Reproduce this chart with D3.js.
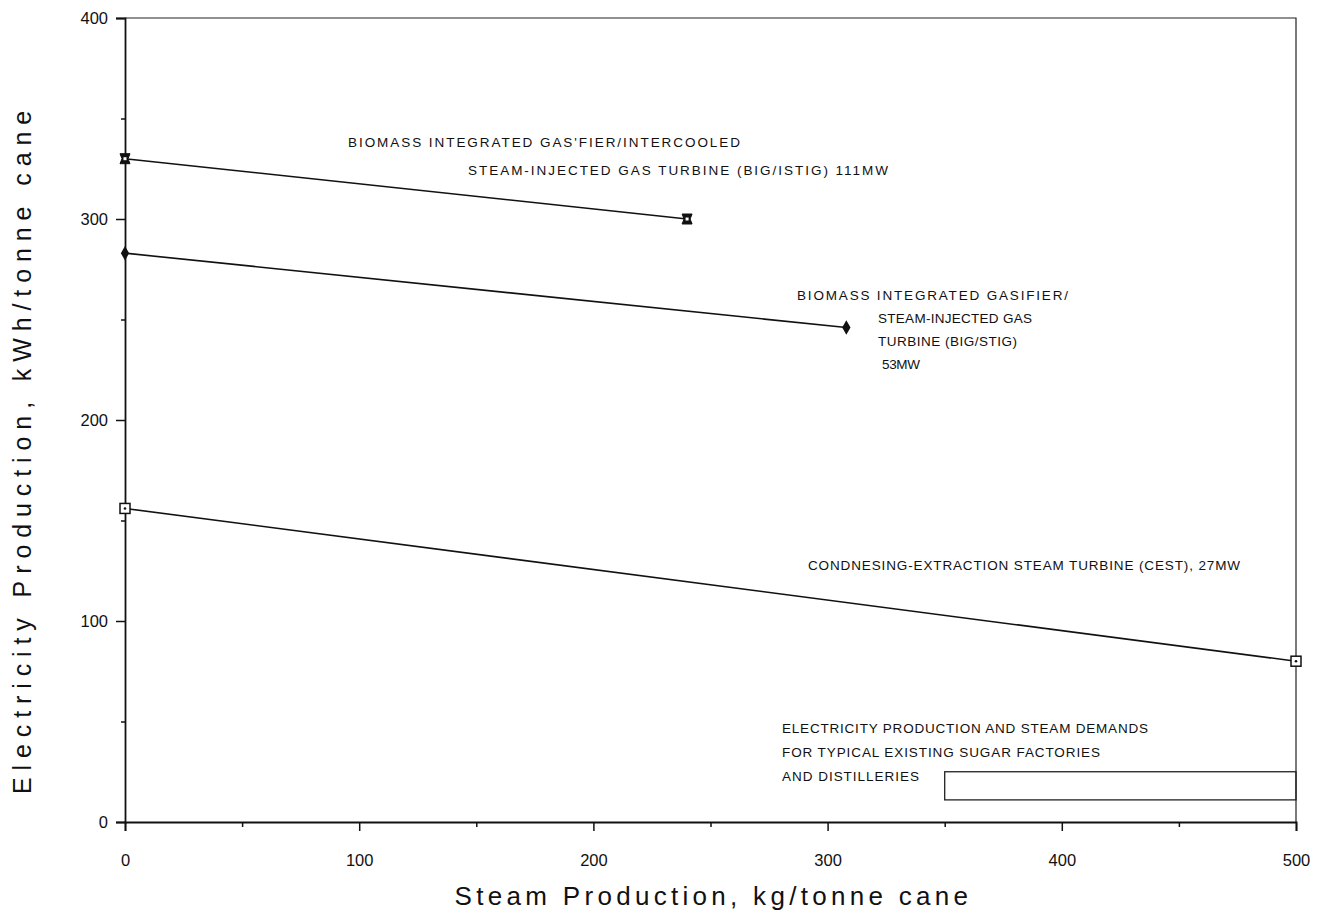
<!DOCTYPE html>
<html>
<head>
<meta charset="utf-8">
<script src="https://cdn.jsdelivr.net/npm/d3@7"></script>
<style>
  body { margin: 0; background: #fff; }
  svg { display: block; }
  text { font-family: "Liberation Sans", Arial, sans-serif; fill: #111; }
  .ann { font-size: 13.5px; }
  .tick text { font-size: 16.5px; }
</style>
</head>
<body>
<svg width="1321" height="917"></svg>
<script>
var width = 1321,
    height = 917;

// axis ticks
var xTicks = [0, 100, 200, 300, 400, 500];
var xMinor = [50, 150, 250, 350, 450];
var yTicks = [0, 100, 200, 300, 400];
var yMinor = [50, 150, 250, 350];

// series (steam kg/t cane, electricity kWh/t cane)
var istigSteam = [0, 240];
var istigElec = [330, 300];
var stigSteam = [0, 308];
var stigElec = [283, 246];
var cestSteam = [0, 500];
var cestElec = [156, 80];

// existing factories band
var existingSteam = [350, 500];
var existingElec = [11, 25];

var margin = {top: 18, right: 25, bottom: 95, left: 125};

var svg = d3.select("svg");

var x = d3.scaleLinear().domain([0, 500]).range([margin.left, width - margin.right]);
var y = d3.scaleLinear().domain([0, 400]).range([height - margin.bottom, margin.top]);

// frame top + right
svg.append("path")
   .attr("d", "M" + x(0) + "," + y(400) + "H" + x(500) + "V" + y(0))
   .attr("fill", "none")
   .attr("stroke", "#222")
   .attr("stroke-width", 1.2);

// axes
svg.append("g")
   .attr("transform", "translate(0," + y(0) + ")")
   .call(d3.axisBottom(x).tickValues(xTicks).tickSize(9).tickPadding(23).tickFormat(d3.format("d")));
svg.append("g")
   .attr("transform", "translate(0," + y(0) + ")")
   .call(d3.axisBottom(x).tickValues(xMinor).tickSize(5).tickFormat(""))
   .select(".domain").remove();

svg.append("g")
   .attr("transform", "translate(" + x(0) + ",0)")
   .call(d3.axisLeft(y).tickValues(yTicks).tickSize(9).tickPadding(8).tickFormat(d3.format("d")));
svg.append("g")
   .attr("transform", "translate(" + x(0) + ",0)")
   .call(d3.axisLeft(y).tickValues(yMinor).tickSize(4).tickFormat(""))
   .select(".domain").remove();

svg.selectAll(".domain").attr("stroke", "#111").attr("stroke-width", 1.8);
svg.selectAll(".tick line").attr("stroke", "#111").attr("stroke-width", 1.5);
svg.selectAll(".tick text").attr("fill", "#111");

// axis titles
svg.append("text")
   .attr("x", (x(0) + x(500)) / 2 + 3)
   .attr("y", 905)
   .attr("text-anchor", "middle")
   .style("font-size", "26px")
   .style("letter-spacing", "4.3px")
   .text("Steam Production, kg/tonne cane");

svg.append("text")
   .attr("transform", "translate(31," + (y(200) + 29) + ") rotate(-90)")
   .attr("text-anchor", "middle")
   .style("font-size", "25px")
   .style("letter-spacing", "6.9px")
   .text("Electricity Production, kWh/tonne cane");

var line = d3.line().x(function(d) { return x(d[0]); }).y(function(d) { return y(d[1]); });

function series(steam, elec) {
    return steam.map(function(s, i) { return [s, elec[i]]; });
}

var istig = series(istigSteam, istigElec);
var stig = series(stigSteam, stigElec);
var cest = series(cestSteam, cestElec);

[istig, stig, cest].forEach(function(pts) {
    svg.append("path")
       .attr("d", line(pts))
       .attr("fill", "none")
       .attr("stroke", "#111")
       .attr("stroke-width", 1.6);
});

// BIG/ISTIG markers: dark notched square
svg.selectAll(".m-istig")
   .data(istig).enter()
   .append("path")
   .attr("class", "m-istig")
   .attr("transform", function(d) { return "translate(" + x(d[0]) + "," + y(d[1]) + ")"; })
   .attr("d", "M-5,-5H5L3,0L5,5H-5L-3,0Z")
   .attr("fill", "#111")
   .attr("stroke", "#111")
   .attr("stroke-width", 1);
svg.selectAll(".m-istig2")
   .data(istig).enter()
   .append("rect")
   .attr("x", function(d) { return x(d[0]) - 1.5; })
   .attr("y", function(d) { return y(d[1]) - 1.5; })
   .attr("width", 3).attr("height", 3)
   .attr("fill", "#fff");

// BIG/STIG markers: filled diamond
svg.selectAll(".m-stig")
   .data(stig).enter()
   .append("path")
   .attr("transform", function(d) { return "translate(" + x(d[0]) + "," + y(d[1]) + ")"; })
   .attr("d", d3.symbol().type(d3.symbolDiamond).size(60))
   .attr("fill", "#111");

// CEST markers: open square with dot
svg.selectAll(".m-cest")
   .data(cest).enter()
   .append("rect")
   .attr("x", function(d) { return x(d[0]) - 5; })
   .attr("y", function(d) { return y(d[1]) - 5; })
   .attr("width", 10).attr("height", 10)
   .attr("fill", "#fff")
   .attr("stroke", "#111")
   .attr("stroke-width", 1.5);
svg.selectAll(".m-cest-dot")
   .data(cest).enter()
   .append("circle")
   .attr("cx", function(d) { return x(d[0]); })
   .attr("cy", function(d) { return y(d[1]); })
   .attr("r", 1.3)
   .attr("fill", "#111");

// existing factories band
svg.append("rect")
   .attr("x", x(existingSteam[0]))
   .attr("y", y(existingElec[1]))
   .attr("width", x(existingSteam[1]) - x(existingSteam[0]))
   .attr("height", y(existingElec[0]) - y(existingElec[1]))
   .attr("fill", "none")
   .attr("stroke", "#222")
   .attr("stroke-width", 1.3);

// annotations (stretched to the widths of the typed labels)
function ann(px, py, w, txt) {
    svg.append("text").attr("class", "ann")
       .attr("x", px).attr("y", py)
       .attr("textLength", w).attr("lengthAdjust", "spacing")
       .text(txt);
}
ann(348, 147, 392, "BIOMASS INTEGRATED GAS'FIER/INTERCOOLED");
ann(468, 175, 420, "STEAM-INJECTED GAS TURBINE (BIG/ISTIG) 111MW");
ann(797, 300, 271, "BIOMASS INTEGRATED GASIFIER/");
ann(878, 323, 154, "STEAM-INJECTED GAS");
ann(878, 346, 139, "TURBINE (BIG/STIG)");
ann(882, 369, 38, "53MW");
ann(808, 570, 432, "CONDNESING-EXTRACTION STEAM TURBINE (CEST), 27MW");
ann(782, 733, 366, "ELECTRICITY PRODUCTION AND STEAM DEMANDS");
ann(782, 757, 318, "FOR TYPICAL EXISTING SUGAR FACTORIES");
ann(782, 781, 137, "AND DISTILLERIES");
</script>
</body>
</html>
